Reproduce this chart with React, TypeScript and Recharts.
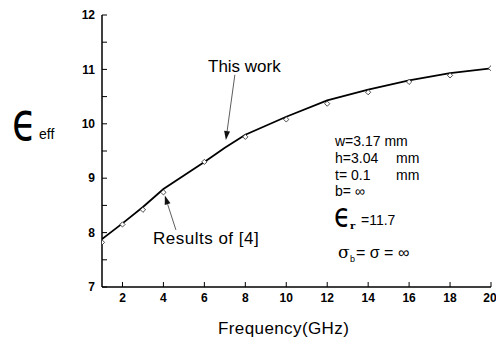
import { ComposedChart, Line, Scatter, XAxis, YAxis, ReferenceLine } from 'recharts'

// ε_eff vs frequency, "This work" curve and "Results of [4]" points
const freqWork = [1, 2, 3, 4, 5, 6, 7, 8, 10, 12, 14, 16, 18, 20]
const effWork = [7.88, 8.17, 8.47, 8.8, 9.05, 9.3, 9.56, 9.8, 10.13, 10.43, 10.63, 10.8, 10.93, 11.02]
const freqRef = [1, 2, 3, 4, 6, 8, 10, 12, 14, 16, 18, 20]
const effRef = [7.82, 8.15, 8.42, 8.74, 9.3, 9.76, 10.08, 10.37, 10.58, 10.77, 10.89, 11.02]
const xTicks = [2, 4, 6, 8, 10, 12, 14, 16, 18, 20]
const yTicks = [7, 7.5, 8, 8.5, 9, 9.5, 10, 10.5, 11, 11.5, 12]

const workData = freqWork.map((x, i) => ({ x, y: effWork[i] }))
const refData = freqRef.map((x, i) => ({ x, y: effRef[i] }))

const FONT = '"Liberation Sans", Arial, Helvetica, sans-serif'

const Diamond = (p: any) => {
  const { cx, cy } = p
  if (cx == null || cy == null) return <g />
  const r = 2.6
  return <path d={`M${cx},${cy - r}L${cx + r},${cy}L${cx},${cy + r}L${cx - r},${cy}Z`} fill="#fff" stroke="#222" strokeWidth={0.8} />
}

const Arrow = (p: any) => {
  const { x1, y1, x2, y2 } = p
  const dx = x2 - x1
  const dy = y2 - y1
  const len = Math.sqrt(dx * dx + dy * dy) || 1
  const ux = dx / len
  const uy = dy / len
  const hl = 9
  const hw = 3
  const bx = x2 - ux * hl
  const by = y2 - uy * hl
  return (
    <g>
      <line x1={x1} y1={y1} x2={bx} y2={by} stroke="#333" strokeWidth={0.8} />
      <path d={`M${x2},${y2}L${bx - uy * hw},${by + ux * hw}L${bx + uy * hw},${by - ux * hw}Z`} fill="#111" />
    </g>
  )
}

export default function App() {
  return (
    <div style={{ position: 'absolute', left: 0, top: 0, width: 496, height: 342, background: '#fff' }}>
      <ComposedChart width={496} height={342} margin={{ top: 15, right: 5, bottom: 25, left: 0 }}>
        <XAxis xAxisId="b" type="number" dataKey="x" domain={[1, 20]} ticks={xTicks} allowDataOverflow
          height={30} tickSize={-5} tickMargin={11} stroke="#000" axisLine={{ stroke: '#000', strokeWidth: 1.5 }}
          tick={{ fill: '#000', fontSize: 12, fontWeight: 700, fontFamily: FONT }} />
        <XAxis xAxisId="t" orientation="top" type="number" dataKey="x" domain={[1, 20]} ticks={xTicks} allowDataOverflow
          height={0} tickSize={-5} tick={false} stroke="#000" axisLine={{ stroke: '#000', strokeWidth: 1.5 }} />
        <YAxis yAxisId="l" type="number" dataKey="y" domain={[7, 12]} ticks={yTicks} allowDataOverflow
          width={102} tickSize={-5} tickMargin={12} stroke="#000" axisLine={{ stroke: '#000', strokeWidth: 1.5 }}
          tickFormatter={(v: number) => (Number.isInteger(v) ? String(v) : '')}
          tick={{ fill: '#000', fontSize: 12, fontWeight: 700, fontFamily: FONT }} />
        <YAxis yAxisId="r" orientation="right" type="number" dataKey="y" domain={[7, 12]} ticks={yTicks} allowDataOverflow
          width={0} tickSize={-5} tick={false} stroke="#000" axisLine={{ stroke: '#000', strokeWidth: 1.5 }} />
        <Line xAxisId="b" yAxisId="l" data={workData} dataKey="y" type="linear" stroke="#000" strokeWidth={1.8}
          dot={false} isAnimationActive={false} />
        <Scatter xAxisId="b" yAxisId="l" data={refData} dataKey="y" shape={Diamond} isAnimationActive={false} />
        <ReferenceLine xAxisId="b" yAxisId="l" segment={[{ x: 7.49, y: 10.9 }, { x: 7.05, y: 9.7 }]} shape={Arrow} />
        <ReferenceLine xAxisId="b" yAxisId="l" segment={[{ x: 4.61, y: 8.05 }, { x: 4.07, y: 8.68 }]} shape={Arrow} />
      </ComposedChart>
      <svg width={496} height={342} style={{ position: 'absolute', left: 0, top: 0, pointerEvents: 'none' }}
        fontFamily={FONT} fill="#000">
        <text transform="translate(12,140) scale(1,1.35)" fontSize={40} fontFamily="DejaVu Sans">ϵ</text>
        <text x={39} y={139} fontSize={14}>eff</text>
        <text x={208} y={72} fontSize={17}>This work</text>
        <text x={153} y={244} fontSize={17} letterSpacing={0.5}>Results of [4]</text>
        <text x={335} y={146} fontSize={14}>w=3.17 mm</text>
        <text x={335} y={163} fontSize={14}>h=3.04</text>
        <text x={396} y={163} fontSize={14}>mm</text>
        <text x={335} y={180} fontSize={14}>t= 0.1</text>
        <text x={396} y={180} fontSize={14}>mm</text>
        <text x={335} y={196} fontSize={14}>b= ∞</text>
        <text transform="translate(334,227) scale(1,1.25)" fontSize={27} fontFamily="DejaVu Sans">ϵ</text>
        <text x={350} y={229} fontSize={10} fontWeight={700} fontFamily="DejaVu Serif">r</text>
        <text x={361} y={225} fontSize={14}>=11.7</text>
        <text x={338} y={258} fontSize={17} fontFamily="DejaVu Serif">σ</text>
        <text x={350} y={262} fontSize={9}>b</text>
        <text x={356} y={258} fontSize={16}>= σ =  ∞</text>
        <text x={218} y={334} fontSize={17} letterSpacing={0.4}>Frequency(GHz)</text>
      </svg>
    </div>
  )
}
